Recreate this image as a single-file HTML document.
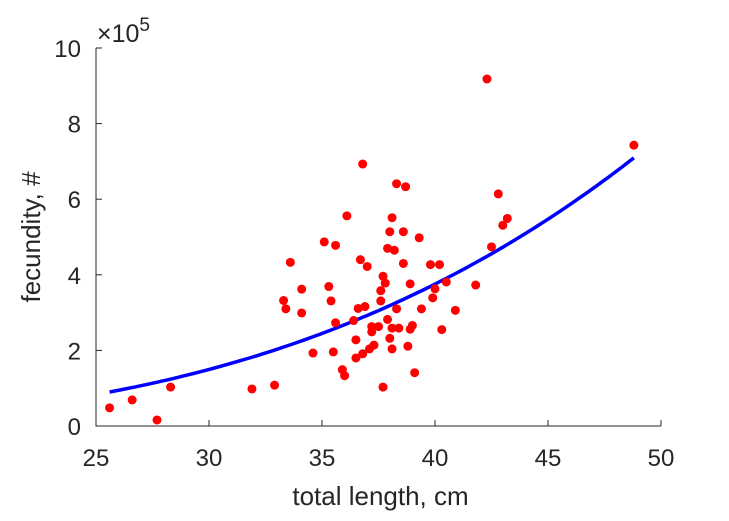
<!DOCTYPE html>
<html><head><meta charset="utf-8"><style>
html,body{margin:0;padding:0;background:#fff;}
svg{display:block;font-family:"Liberation Sans",Arial,sans-serif;}
</style></head><body>
<svg id="chart" width="729" height="521" viewBox="0 0 729 521"></svg>
<script>
const xTicks=[25,30,35,40,45,50];
const yTicks=[0,2,4,6,8,10];
const lengths=[25.6,26.6,27.7,28.3,31.9,32.9,33.3,33.4,33.6,34.1,34.1,34.6,35.1,35.3,35.4,35.5,35.6,35.6,35.9,36.0,36.1,36.4,36.5,36.5,36.6,36.7,36.8,36.8,36.9,37.0,37.1,37.2,37.2,37.3,37.5,37.6,37.6,37.7,37.7,37.8,37.9,37.9,38.0,38.0,38.1,38.1,38.1,38.2,38.3,38.3,38.4,38.6,38.6,38.7,38.8,38.9,38.9,39.0,39.1,39.3,39.4,39.8,39.9,40.0,40.2,40.3,40.5,40.9,41.8,42.3,42.5,42.8,43.0,43.2,48.8];
const fecundity=[0.48,0.69,0.16,1.03,0.98,1.08,3.32,3.10,4.33,3.62,2.99,1.93,4.87,3.69,3.31,1.96,2.73,4.78,1.49,1.33,5.56,2.79,2.28,1.80,3.11,4.40,1.91,6.93,3.16,4.22,2.04,2.63,2.49,2.14,2.63,3.31,3.58,1.03,3.96,3.78,2.82,4.70,5.14,2.32,5.51,2.04,2.59,4.65,3.10,6.41,2.59,5.14,4.30,6.33,2.11,2.56,3.76,2.66,1.41,4.98,3.10,4.27,3.39,3.63,4.27,2.55,3.81,3.06,3.73,9.18,4.74,6.14,5.31,5.49,7.43];
const fitX0=25.6, fitX1=48.8, fitA=0.9, fitP=3.2;
const L=96,R=661,T=48,B=426;
const sx=v=>L+(v-25)/(50-25)*(R-L);
const sy=v=>B-(v-0)/(10-0)*(B-T);
const svg=document.getElementById('chart');
const NS='http://www.w3.org/2000/svg';
function mk(tag,attrs,parent){const e=document.createElementNS(NS,tag);for(const k in attrs)e.setAttribute(k,attrs[k]);(parent||svg).appendChild(e);return e;}
const ax=mk('path',{d:`M${L},${T}V${B}H${R}`,stroke:'#262626','stroke-width':1,fill:'none'});


xTicks.forEach(t=>{
 const tk=mk('line',{x1:sx(t),x2:sx(t),y1:B,y2:B-6,stroke:'#262626'});
 
 
 const tx=mk('text',{x:sx(t),y:B+40,'text-anchor':'middle','font-size':24,fill:'#262626'});
 tx.textContent=t;
 
 
});
yTicks.forEach(t=>{
 const tk=mk('line',{x1:L,x2:L+6,y1:sy(t),y2:sy(t),stroke:'#262626'});
 
 
 const tx=mk('text',{x:L-15,y:sy(t)+9,'text-anchor':'end','font-size':24,fill:'#262626'});
 tx.textContent=t;
 
 
});
const ex=mk('text',{x:97,y:42,'font-size':25,fill:'#262626'});
ex.innerHTML='×10<tspan dy="-11" font-size="19">5</tspan>';


const xl=mk('text',{x:(L+R)/2+2,y:505,'text-anchor':'middle','font-size':26,fill:'#262626'});
xl.textContent='total length, cm';


const yl=mk('text',{x:0,y:0,'text-anchor':'middle','font-size':26,fill:'#262626',transform:`translate(40,${(T+B)/2}) rotate(-90)`});
yl.textContent='fecundity, #';


let d='';
for(let i=0;i<=100;i++){const x=fitX0+(fitX1-fitX0)*i/100;const y=fitA*Math.pow(x/fitX0,fitP);d+=(i?'L':'M')+sx(x).toFixed(1)+','+sy(y).toFixed(1);}
const fl=mk('path',{d:d,stroke:'#0000ff','stroke-width':3.5,fill:'none'});


lengths.forEach((x,i)=>{
 const c=mk('circle',{cx:sx(x),cy:sy(fecundity[i]),r:4.5,fill:'#ff0000'});
 
 
});
</script>
</body></html>
